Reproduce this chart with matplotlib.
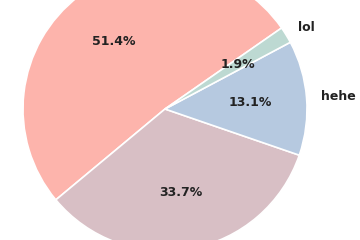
import matplotlib
matplotlib.use("Agg")
import matplotlib.pyplot as plt

labels = ["", "", "hehe", "lol"]
values = [51.38, 33.68, 13.06, 1.88]
colors = ["#FDB4AC", "#D8BFC5", "#B6C9E0", "#BDD9D2"]

fig = plt.figure(figsize=(3.6, 2.4), dpi=100)
fig.patch.set_facecolor("white")
cx, cy, r = 165, 240 - 109, 142
ax = fig.add_axes([(cx - r) / 360, (cy - r) / 240, 2 * r / 360, 2 * r / 240])
wedges, texts, autotexts = ax.pie(
    values, labels=labels, colors=colors, startangle=34.8, counterclock=True,
    autopct="%1.1f%%", pctdistance=0.6, labeldistance=1.1,
    wedgeprops=dict(edgecolor="white", linewidth=1.2),
    textprops=dict(fontsize=9, fontweight="bold", color="#222222"))
ax.set_xlim(-1, 1)
ax.set_ylim(-1, 1)
ax.set_aspect("equal")
ax.axis("off")
fig.savefig("out.png", dpi=100)
